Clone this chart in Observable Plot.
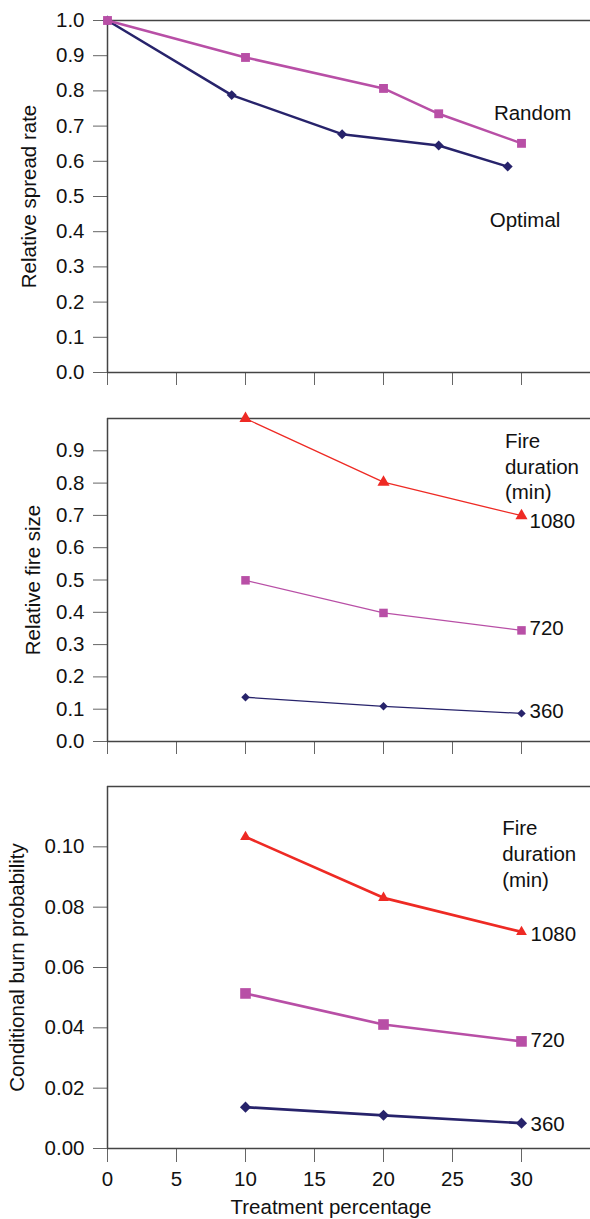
<!DOCTYPE html>
<html>
<head>
<meta charset="utf-8">
<script src="https://cdn.jsdelivr.net/npm/d3@7"></script>
<script src="https://cdn.jsdelivr.net/npm/@observablehq/plot@0.6"></script>
<style>
  html, body { margin: 0; padding: 0; background: #fff; }
  #chart svg { display: block; }
</style>
</head>
<body>
<div id="chart"></div>
<script>
// ---- data ----
const xTicks = [0, 5, 10, 15, 20, 25, 30];

const randomX = [0, 10, 20, 24, 30];
const randomY = [1.0, 0.895, 0.807, 0.735, 0.651];
const optimalX = [0, 9, 17, 24, 29];
const optimalY = [1.0, 0.788, 0.677, 0.645, 0.585];

const durations = ["360", "720", "1080"];
const durX = [10, 20, 30];
const size360 = [0.137, 0.109, 0.087];
const size720 = [0.499, 0.398, 0.344];
const size1080 = [1.0, 0.803, 0.699];
const cbp360 = [0.0137, 0.0110, 0.0084];
const cbp720 = [0.0514, 0.0411, 0.0355];
const cbp1080 = [0.1033, 0.0831, 0.0718];

const spreadTicks = [0, 0.1, 0.2, 0.3, 0.4, 0.5, 0.6, 0.7, 0.8, 0.9, 1.0];
const sizeTicks = [0, 0.1, 0.2, 0.3, 0.4, 0.5, 0.6, 0.7, 0.8, 0.9];
const cbpTicks = [0, 0.02, 0.04, 0.06, 0.08, 0.10];

// ---- styles ----
const NAVY = "#27236b", MAGENTA = "#b84fa6", RED = "#ee2a24";
const AXIS = "#444", TICK = "#666";
const FONT = "'Liberation Sans', Arial, Helvetica, sans-serif";

const zip = (xs, ys, extra = {}) => xs.map((x, i) => ({x, y: ys[i], ...extra}));

const spreadData = [...zip(randomX, randomY, {s: "Random"}), ...zip(optimalX, optimalY, {s: "Optimal"})];
const sizeData = [...zip(durX, size360, {s: "360"}), ...zip(durX, size720, {s: "720"}), ...zip(durX, size1080, {s: "1080"})];
const cbpData = [...zip(durX, cbp360, {s: "360"}), ...zip(durX, cbp720, {s: "720"}), ...zip(durX, cbp1080, {s: "1080"})];

const colorOf = {Random: MAGENTA, Optimal: NAVY, "360": NAVY, "720": MAGENTA, "1080": RED};
const symbolOf = {Random: "square", Optimal: "diamond2", "360": "diamond2", "720": "square", "1080": "triangle"};

function seriesMarks(data, names, lineW, rOf) {
  const marks = [];
  for (const n of names) {
    const d = data.filter(e => e.s === n);
    marks.push(Plot.line(d, {x: "x", y: "y", stroke: colorOf[n], strokeWidth: lineW}));
    marks.push(Plot.dot(d, {x: "x", y: "y", symbol: () => symbolOf[n], fill: colorOf[n], stroke: "none", r: rOf[n]}));
  }
  return marks;
}

function endLabels(data, dyOf, dx) {
  return durations.map(n => Plot.text(data.filter(d => d.s === n && d.x === 30),
    {x: "x", y: "y", text: "s", textAnchor: "start", dx, dy: dyOf[n], fill: "#111"}));
}

function frame(ymax) {
  return [
    Plot.ruleY([ymax], {stroke: AXIS, strokeWidth: 1.5}),
    Plot.ruleY([0], {stroke: AXIS, strokeWidth: 1.5}),
    Plot.ruleX([0], {stroke: AXIS, strokeWidth: 1.5})
  ];
}

const common = {
  width: 590, marginLeft: 107, marginRight: 0,
  style: {fontFamily: FONT, fontSize: "20.5px", color: "#111", background: "#fff", overflow: "visible"},
  x: {domain: [0, 35]}
};

// ---- panel 1 ----
const p1 = Plot.plot({
  ...common, height: 400, marginTop: 20, marginBottom: 28,
  y: {domain: [0, 1]},
  marks: [
    Plot.axisY({ticks: spreadTicks, tickFormat: d => d.toFixed(1), tickSize: 14, tickPadding: 9, stroke: TICK, fill: "#111",
      label: "Relative spread rate", labelAnchor: "center", labelArrow: "none", labelOffset: 86}),
    Plot.axisX({ticks: xTicks, tickSize: 13, stroke: TICK, tickFormat: () => "", label: null}),
    ...frame(1),
    ...seriesMarks(spreadData, ["Optimal", "Random"], 2.5, {Optimal: 4.5, Random: 5}),
    Plot.text([{x: 28, y: 0.736, t: "Random"}, {x: 27.7, y: 0.432, t: "Optimal"}],
      {x: "x", y: "y", text: "t", textAnchor: "start", fill: "#111"})
  ]
});

// ---- panel 2 ----
const p2 = Plot.plot({
  ...common, height: 370, marginTop: 18, marginBottom: 29,
  y: {domain: [0, 1]},
  marks: [
    Plot.axisY({ticks: sizeTicks, tickFormat: d => d.toFixed(1), tickSize: 14, tickPadding: 9, stroke: TICK, fill: "#111",
      label: "Relative fire size", labelAnchor: "center", labelArrow: "none", labelOffset: 82}),
    Plot.axisX({ticks: xTicks, tickSize: 13, stroke: TICK, tickFormat: () => "", label: null}),
    ...frame(1),
    ...seriesMarks(sizeData, ["360", "720", "1080"], 1.3, {"360": 3.8, "720": 4.8, "1080": 4.5}),
    ...endLabels(sizeData, {"360": -2, "720": -2, "1080": 6}, 8),
    Plot.text(["Fire\nduration\n(min)"], {x: 28.8, y: 0.854, textAnchor: "start", lineHeight: 1.25, fill: "#111"})
  ]
});

// ---- panel 3 ----
const p3 = Plot.plot({
  ...common, height: 449, marginTop: 16, marginBottom: 71,
  y: {domain: [0, 0.12]},
  marks: [
    Plot.axisY({ticks: cbpTicks, tickFormat: d => d.toFixed(2), tickSize: 14, tickPadding: 9, stroke: TICK, fill: "#111",
      label: "Conditional burn probability", labelAnchor: "center", labelArrow: "none", labelOffset: 98}),
    Plot.axisX({ticks: xTicks, tickSize: 14, tickPadding: 9, stroke: TICK, fill: "#111", tickFormat: d => String(d), label: null}),
    ...frame(0.12),
    ...seriesMarks(cbpData, ["360", "720", "1080"], 2.7, {"360": 5, "720": 6, "1080": 4}),
    ...endLabels(cbpData, {"360": 1, "720": -1, "1080": 3}, 9),
    Plot.text(["Fire\nduration\n(min)"], {x: 28.6, y: 0.098, textAnchor: "start", lineHeight: 1.25, fill: "#111"}),
    Plot.text(["Treatment percentage"], {frameAnchor: "bottom", lineAnchor: "middle", dx: -18, dy: 59, fontSize: 20.5, fill: "#111"})
  ]
});

const el = document.getElementById("chart");
el.append(p1, p2, p3);
</script>
</body>
</html>
